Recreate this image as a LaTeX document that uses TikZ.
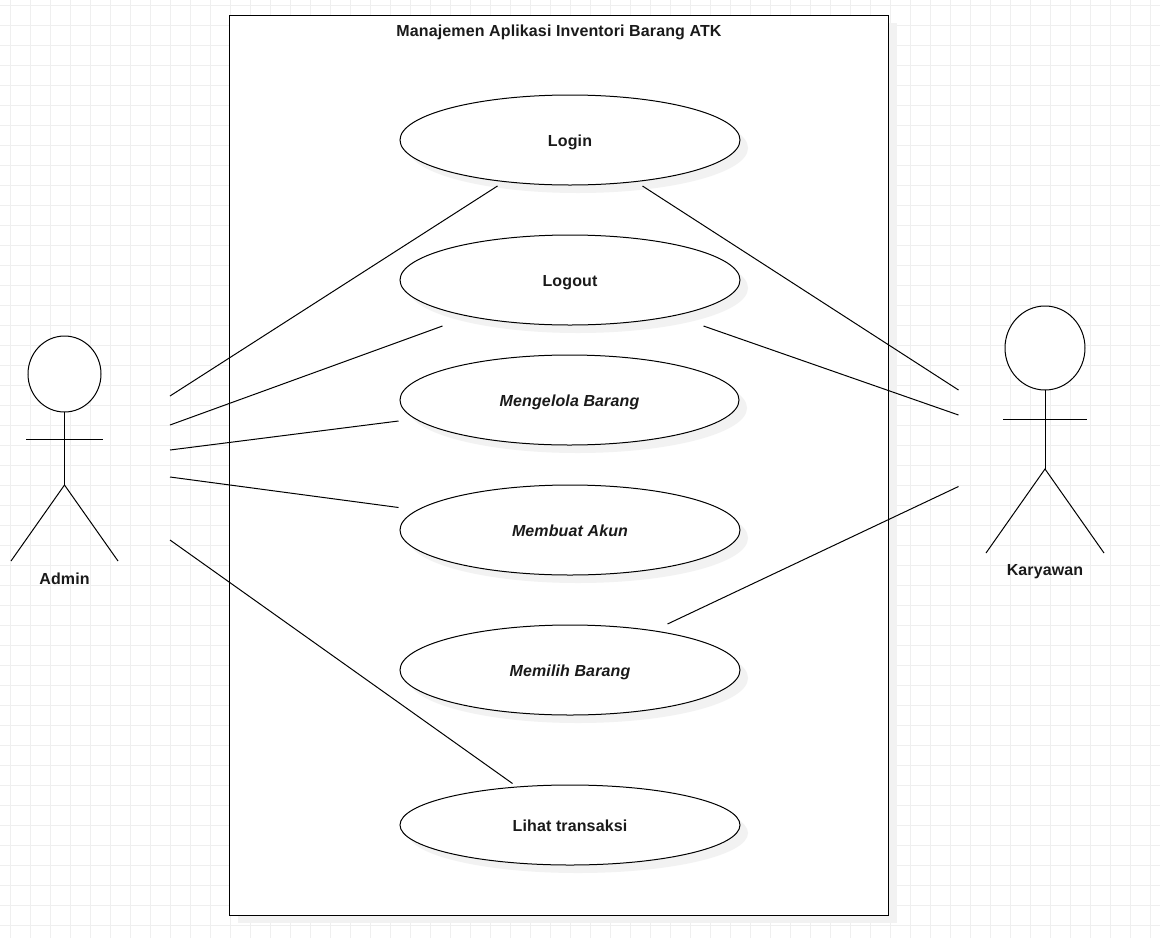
\documentclass[tikz,border=0pt]{standalone}
\usepackage{fontspec}
\setmainfont[LetterSpace=0.8]{Liberation Sans}
\usetikzlibrary{shapes.geometric}
\definecolor{gridc}{HTML}{EFEFEF}
\definecolor{shadowc}{HTML}{F2F2F2}
\definecolor{textc}{HTML}{1A1A1A}
\tikzset{
  usecase/.style={ellipse,draw=black,fill=white,line width=1pt,inner sep=0pt,outer sep=0pt,minimum width=340pt,minimum height=90pt,text=textc,text height=13pt,text depth=1pt,font=\fontsize{16pt}{19pt}\selectfont\bfseries},
  usecaseshadow/.style={ellipse,fill=shadowc,draw=none,inner sep=0pt,outer sep=0pt,minimum width=340pt,minimum height=90pt},
  conn/.style={draw=black,line width=1pt},
  stick/.style={draw=black,line width=1pt},
  lbl/.style={text=textc,inner sep=0pt,text height=13pt,text depth=1pt,font=\fontsize{16pt}{19pt}\selectfont\bfseries},
  gridline/.style={draw=gridc,line width=1pt},
}
\begin{document}
\begin{tikzpicture}[x=1pt,y=-1pt]
\useasboundingbox (0,0) rectangle (1160,938);
\fill[white] (0,0) rectangle (1160,938);
% grid
\foreach \gx in {10,30,...,1150} \draw[gridline] (\gx,0) -- (\gx,938);
\foreach \gy in {5,25,...,925} \draw[gridline] (0,\gy) -- (1160,\gy);
% system box
\fill[shadowc] (238,23) rectangle (897,923);
\node[draw=black,fill=white,line width=1pt,inner sep=0pt,outer sep=0pt,minimum width=659pt,minimum height=900pt] (sys) at (559.4,465) {};
\node[lbl] (title) at (559,30) {Manajemen Aplikasi Inventori Barang ATK};
% shadows
\node[usecaseshadow] (s1) at (578,148) {};
\node[usecaseshadow] (s2) at (578,288) {};
\node[usecaseshadow,minimum width=339pt] (s3) at (577.5,408) {};
\node[usecaseshadow] (s4) at (578,538) {};
\node[usecaseshadow] (s5) at (578,678) {};
\node[usecaseshadow,minimum height=80pt] (s6) at (578,833) {};
% use cases
\node[usecase] (login) at (570,140) {Login};
\node[usecase] (logout) at (570,280) {Logout};
\node[usecase,minimum width=339pt] (mengelola) at (569.5,400) {\itshape Mengelola Barang};
\node[usecase] (membuat) at (570,530) {\itshape Membuat Akun};
\node[usecase] (memilih) at (570,670) {\itshape Memilih Barang};
\node[usecase,minimum height=80pt] (lihat) at (570,825) {Lihat transaksi};
% Admin actor
\node[ellipse,draw=black,fill=white,line width=1pt,inner sep=0pt,outer sep=0pt,minimum width=73pt,minimum height=76pt] (ahead) at (64.5,374) {};
\coordinate (ahip) at (64.5,485);
\coordinate (aarml) at (26,439.5);
\coordinate (aarmr) at (103,439.5);
\coordinate (alegl) at (11,561);
\coordinate (alegr) at (118,561);
\draw[stick] (ahead.south) -- (ahip);
\draw[stick] (aarml) -- (aarmr);
\draw[stick] (alegl) -- (ahip) -- (alegr);
\node[lbl] (admin) at (64.5,578) {Admin};
% Karyawan actor
\node[ellipse,draw=black,fill=white,line width=1pt,inner sep=0pt,outer sep=0pt,minimum width=80pt,minimum height=84pt] (khead) at (1045,348) {};
\coordinate (khip) at (1045,469);
\coordinate (karml) at (1003,419);
\coordinate (karmr) at (1087,419);
\coordinate (klegl) at (986,553);
\coordinate (klegr) at (1104,553);
\draw[stick] (khead.south) -- (khip);
\draw[stick] (karml) -- (karmr);
\draw[stick] (klegl) -- (khip) -- (klegr);
\node[lbl] (karyawan) at (1045,569) {Karyawan};
% connector ends
\coordinate (a1) at (170,396); \coordinate (e1) at (497.5,186);
\coordinate (a2) at (170,425); \coordinate (e2) at (442.5,326);
\coordinate (a3) at (170,450); \coordinate (e3) at (398.5,421);
\coordinate (a4) at (170,477); \coordinate (e4) at (398.5,507.5);
\coordinate (a5) at (170,540); \coordinate (e5) at (512.5,783.5);
\coordinate (k1) at (958.5,390); \coordinate (f1) at (642.5,186);
\coordinate (k2) at (958.5,415); \coordinate (f2) at (703.5,326);
\coordinate (k3) at (958.5,486.5); \coordinate (f3) at (667.5,624);
\draw[conn] (a1) -- (e1);
\draw[conn] (a2) -- (e2);
\draw[conn] (a3) -- (e3);
\draw[conn] (a4) -- (e4);
\draw[conn] (a5) -- (e5);
\draw[conn] (k1) -- (f1);
\draw[conn] (k2) -- (f2);
\draw[conn] (k3) -- (f3);
\end{tikzpicture}
\end{document}
